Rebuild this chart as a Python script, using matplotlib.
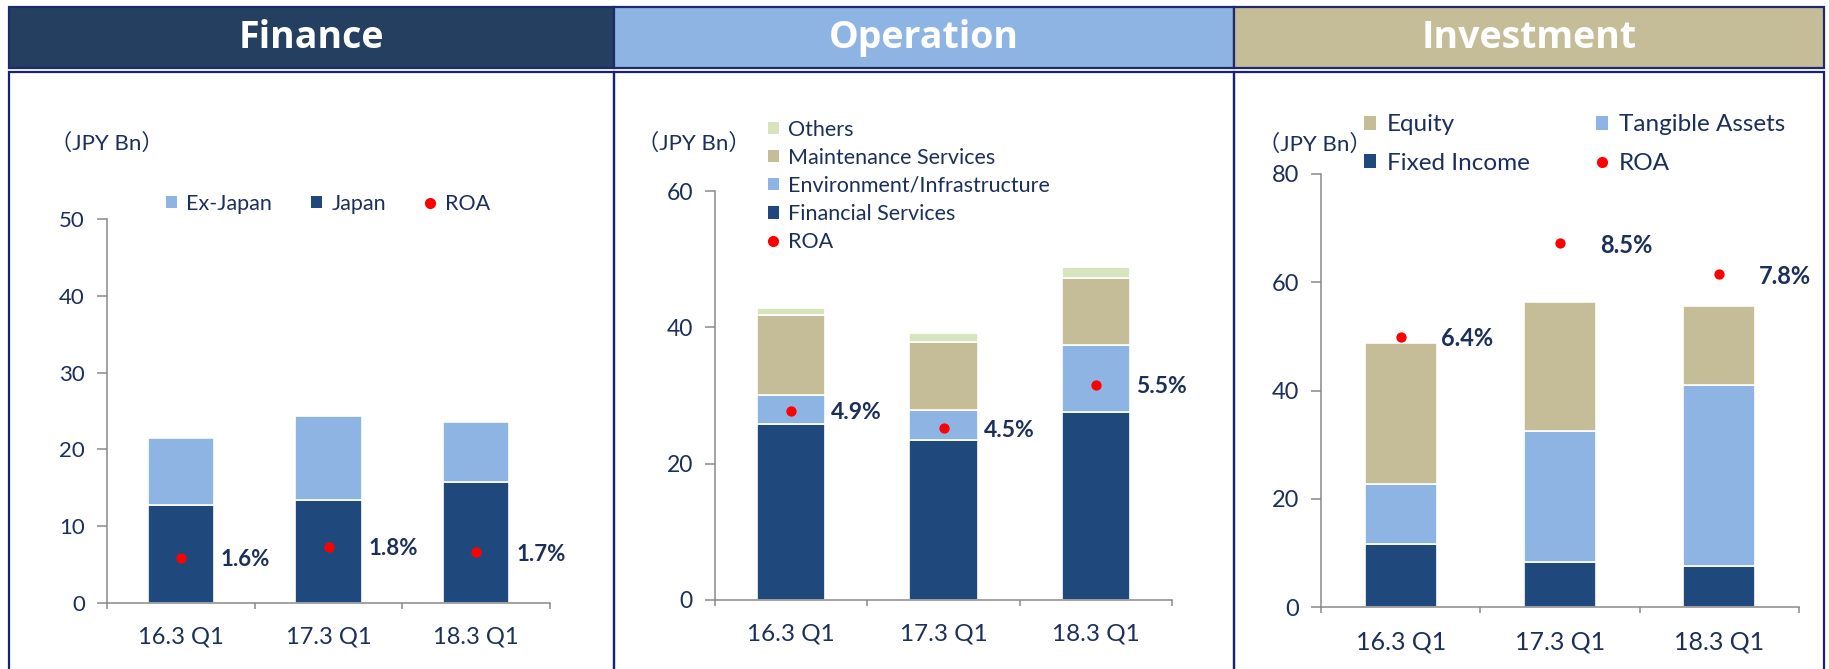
import numpy as np
import matplotlib
matplotlib.use('Agg')
from matplotlib import pyplot as plt
from matplotlib.patches import Rectangle, Patch
from matplotlib.lines import Line2D

plt.rcParams['font.family'] = ['Lato', 'Noto Sans CJK JP', 'DejaVu Sans']

categories = ['16.3 Q1', '17.3 Q1', '18.3 Q1']

# Finance (JPY Bn)
fin_japan = [12.7, 13.4, 15.7]
fin_exjapan = [8.8, 10.9, 7.9]
fin_roa = [1.6, 1.8, 1.7]

# Operation (JPY Bn)
ops_financial = [25.8, 23.5, 27.6]
ops_environment = [4.3, 4.4, 9.8]
ops_maintenance = [11.7, 10.0, 9.9]
ops_others = [1.1, 1.3, 1.6]
ops_roa = [4.9, 4.5, 5.5]

# Investment (JPY Bn)
inv_fixed = [11.6, 8.3, 7.6]
inv_tangible = [11.1, 24.3, 33.5]
inv_equity = [26.0, 23.8, 14.6]
inv_roa = [6.4, 8.5, 7.8]

W, H = 1829, 669
DARK = '#1F497D'
LIGHT = '#8EB4E3'
TAN = '#C4BD97'
PALE = '#D7E4BD'
RED = '#FF0000'
TXT = '#1B2F5B'
BORDER = '#18217A'

fig = plt.figure(figsize=(W / 100, H / 100), dpi=100)


def px_rect(x0, x1, ytop, ybot):
    return [x0 / W, 1 - ybot / H, (x1 - x0) / W, (ybot - ytop) / H]


def box(x0, x1, ytop, ybot, face, edge, lw):
    r = px_rect(x0, x1, ytop, ybot)
    fig.add_artist(Rectangle((r[0], r[1]), r[2], r[3], transform=fig.transFigure,
                             facecolor=face, edgecolor=edge, linewidth=lw, zorder=-1))


# headers and panel frames
headers = [('Finance', 9, 614, '#243F60'), ('Operation', 614, 1234, LIGHT),
           ('Investment', 1234, 1824, TAN)]
for name, x0, x1, col in headers:
    box(x0, x1, 72, 700, 'none', BORDER, 1.6)
    box(x0, x1, 7, 68, col, '#1F2A6B', 1.6)
    fig.text((x0 + x1) / 2 / W, 1 - 38 / H, name, ha='center', va='center',
             color='white', fontsize=27, fontweight='bold', family='Open Sans')


def panel(rect, series, colors, roa, roa_lim, ymax, ystep, fs):
    ax = fig.add_axes(rect)
    x = np.arange(len(categories))
    bottom = np.zeros(len(categories))
    for vals, c in zip(series, colors):
        ax.bar(x, vals, 0.45, bottom=bottom, color=c, edgecolor='white',
               linewidth=1.2, zorder=2)
        bottom += np.array(vals)
    ax.set_xlim(-0.5, 2.5)
    ax.set_ylim(0, ymax)
    ax.set_yticks(np.arange(0, ymax + 1, ystep))
    ax.set_xticks(x)
    ax.set_xticklabels(categories)
    ax.set_xticks([-0.5, 0.5, 1.5, 2.5], minor=True)
    ax.tick_params(axis='x', which='major', length=0, pad=17, labelsize=fs + 1, labelcolor=TXT)
    ax.tick_params(axis='x', which='minor', length=4.5, width=1.1, color='#898989', direction='out')
    ax.tick_params(axis='y', length=7, width=1.1, color='#898989', pad=9,
                   labelsize=fs, labelcolor=TXT)
    for s in ['top', 'right']:
        ax.spines[s].set_visible(False)
    for s in ['left', 'bottom']:
        ax.spines[s].set_color('#898989')
        ax.spines[s].set_linewidth(1.1)
    ax.patch.set_alpha(0)
    ax2 = ax.twinx()
    ax2.set_ylim(*roa_lim)
    ax2.axis('off')
    ax2.scatter(x, roa, s=55, color=RED, zorder=3, linewidths=0)
    for xi, r in zip(x, roa):
        ax2.annotate(f'{r:.1f}%', (xi, r), xytext=(40, -2), textcoords='offset pixels',
                     ha='left', va='center', fontweight='bold', fontsize=fs, color=TXT)
    return ax


def legend(handles, labels, anchor, loc, ncol, fs, colsp, rowsp):
    fig.legend(handles, labels, loc=loc, bbox_to_anchor=(anchor[0] / W, 1 - anchor[1] / H),
               ncol=ncol, frameon=False, fontsize=fs, labelcolor=TXT, handlelength=0.5,
               handleheight=0.5, handletextpad=0.45, columnspacing=colsp,
               labelspacing=rowsp, borderpad=0, borderaxespad=0)


def sq(c):
    return Patch(facecolor=c, edgecolor='none')


dot = Line2D([], [], marker='o', color=RED, linestyle='none', markersize=7)

# Finance
panel(px_rect(107, 550, 219, 603), [fin_japan, fin_exjapan], [DARK, LIGHT],
      fin_roa, (0.757, 7.9), 50, 10, 16)
fig.text(50 / W, 1 - 143 / H, '（JPY Bn）', ha='left', va='center', fontsize=16, color=TXT)
legend([sq(LIGHT), sq(DARK), dot], ['Ex-Japan', 'Japan', 'ROA'], (328, 204),
       'center', 3, 15.5, 1.8, 0.3)

# Operation
panel(px_rect(715, 1172, 191, 600), [ops_financial, ops_environment, ops_maintenance, ops_others],
      [DARK, LIGHT, TAN, PALE], ops_roa, (0.5625, 9.94), 60, 20, 16.5)
fig.text(637 / W, 1 - 143 / H, '（JPY Bn）', ha='left', va='center', fontsize=16, color=TXT)
legend([sq(PALE), sq(TAN), sq(LIGHT), sq(DARK), dot],
       ['Others', 'Maintenance Services', 'Environment/Infrastructure', 'Financial Services', 'ROA'],
       (768, 186), 'center left', 1, 15.5, 1.0, 0.38)

# Investment
panel(px_rect(1321, 1799, 174, 607), [inv_fixed, inv_tangible, inv_equity],
      [DARK, LIGHT, TAN], inv_roa, (0.34, 10.05), 80, 20, 17)
fig.text(1258 / W, 1 - 144 / H, '（JPY Bn）', ha='left', va='center', fontsize=16, color=TXT)
legend([sq(TAN), sq(DARK), sq(LIGHT), dot], ['Equity', 'Fixed Income', 'Tangible Assets', 'ROA'],
       (1364, 144), 'center left', 2, 17.5, 2.7, 0.7)

fig.savefig('out.png', dpi=100)
